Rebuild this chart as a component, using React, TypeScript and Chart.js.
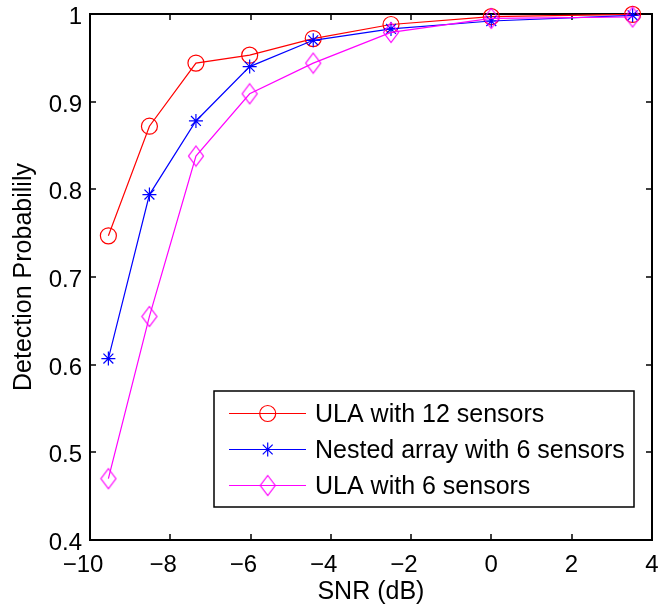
import React, { useEffect, useRef } from 'react';
import { Chart, registerables } from 'chart.js';

Chart.register(...registerables);

// ---- data ----
const snrDb = [-9.542, -8.519, -7.36, -6.021, -4.437, -2.499, 0, 3.522];
const ula12 = [0.747, 0.872, 0.944, 0.953, 0.972, 0.988, 0.997, 0.9995];
const nested6 = [0.607, 0.794, 0.878, 0.94, 0.97, 0.983, 0.992, 0.9985];
const ula6 = [0.47, 0.655, 0.838, 0.909, 0.944, 0.979, 0.995, 0.9966];
const seriesLabels = ['ULA with 12 sensors', 'Nested array with 6 sensors', 'ULA with 6 sensors'];
const xTicks = [-10, -8, -6, -4, -2, 0, 2, 4];
const yTicks = [0.4, 0.5, 0.6, 0.7, 0.8, 0.9, 1];
const xTitle = 'SNR (dB)';
const yTitle = 'Detection Probabilily';

const FONT = '"Liberation Sans", Arial, Helvetica, sans-serif';
const RED = '#ff0000';
const BLUE = '#0000ff';
const MAGENTA = '#ff00ff';

function makeDiamond(color: string): HTMLCanvasElement {
  const c = document.createElement('canvas');
  c.width = 18;
  c.height = 23;
  const g = c.getContext('2d')!;
  g.strokeStyle = color;
  g.lineWidth = 1.2;
  g.beginPath();
  g.moveTo(9, 1.5);
  g.lineTo(16.5, 11.5);
  g.lineTo(9, 21.5);
  g.lineTo(1.5, 11.5);
  g.closePath();
  g.stroke();
  return c;
}

function drawMarker(ctx: CanvasRenderingContext2D, style: any, x: number, y: number, r: number, color: string) {
  ctx.save();
  ctx.strokeStyle = color;
  ctx.lineWidth = 1.2;
  if (style === 'circle') {
    ctx.beginPath();
    ctx.arc(x, y, r, 0, Math.PI * 2);
    ctx.stroke();
  } else if (style === 'star') {
    const d = Math.cos(Math.PI / 4) * r;
    ctx.beginPath();
    ctx.moveTo(x - r, y); ctx.lineTo(x + r, y);
    ctx.moveTo(x, y - r); ctx.lineTo(x, y + r);
    ctx.moveTo(x - d, y - d); ctx.lineTo(x + d, y + d);
    ctx.moveTo(x - d, y + d); ctx.lineTo(x + d, y - d);
    ctx.stroke();
  } else if (style instanceof HTMLCanvasElement) {
    ctx.drawImage(style, x - style.width / 2, y - style.height / 2);
  }
  ctx.restore();
}

const framePlugin = {
  id: 'matlabFrame',
  beforeDatasetsDraw(chart: any) {
    const { ctx, chartArea: a, scales } = chart;
    const xs = scales.x;
    const ys = scales.y;
    ctx.save();
    ctx.strokeStyle = '#000';
    ctx.lineWidth = 2;
    const L = Math.round(a.left), R = Math.round(a.right), T = Math.round(a.top), B = Math.round(a.bottom);
    ctx.strokeRect(L, T, R - L, B - T);
    ctx.beginPath();
    ctx.lineWidth = 1.5;
    const tl = 6;
    xTicks.forEach((v) => {
      const px = Math.round(xs.getPixelForValue(v));
      ctx.moveTo(px, B); ctx.lineTo(px, B - tl);
      ctx.moveTo(px, T); ctx.lineTo(px, T + tl);
    });
    yTicks.forEach((v) => {
      const py = Math.round(ys.getPixelForValue(v));
      ctx.moveTo(L, py); ctx.lineTo(L + tl, py);
      ctx.moveTo(R, py); ctx.lineTo(R - tl, py);
    });
    ctx.stroke();

    // tick labels
    ctx.fillStyle = '#000';
    ctx.font = `24px ${FONT}`;
    ctx.textBaseline = 'alphabetic';
    xTicks.forEach((v) => {
      const px = xs.getPixelForValue(v);
      const digits = String(Math.abs(v));
      const dw = ctx.measureText(digits).width;
      if (v < 0) {
        ctx.textAlign = 'right';
        ctx.fillText('\u2212' + digits, px + dw / 2, a.bottom + 32);
      } else {
        ctx.textAlign = 'center';
        ctx.fillText(digits, px, a.bottom + 32);
      }
    });
    ctx.textAlign = 'right';
    yTicks.forEach((v) => {
      const py = ys.getPixelForValue(v);
      const label = String(Number(v.toFixed(1)));
      ctx.fillText(label, a.left - 8, py + 10);
    });
    ctx.restore();
  },
};

const legendPlugin = {
  id: 'matlabLegend',
  afterDatasetsDraw(chart: any) {
    const { ctx, chartArea: a } = chart;
    const left = Math.round(a.left + 124);
    const right = Math.round(a.right - 18);
    const top = Math.round(a.bottom - 149);
    const bottom = Math.round(a.bottom - 33);
    ctx.save();
    ctx.fillStyle = '#fff';
    ctx.fillRect(left, top, right - left, bottom - top);
    ctx.strokeStyle = '#000';
    ctx.lineWidth = 1.5;
    ctx.strokeRect(left, top, right - left, bottom - top);
    ctx.font = `25px ${FONT}`;
    ctx.textAlign = 'left';
    ctx.textBaseline = 'alphabetic';
    chart.data.datasets.forEach((ds: any, i: number) => {
      const cy = top + 22.3 + i * 35.7;
      ctx.strokeStyle = ds.borderColor;
      ctx.lineWidth = 1.2;
      ctx.beginPath();
      ctx.moveTo(left + 15, Math.round(cy) + 0.5);
      ctx.lineTo(left + 92, Math.round(cy) + 0.5);
      ctx.stroke();
      drawMarker(ctx, ds.pointStyle, left + 53.7, Math.round(cy) + 0.5, ds.pointRadius, ds.borderColor);
      ctx.fillStyle = '#000';
      ctx.fillText(ds.label, left + 101, cy + 9);
    });
    ctx.restore();
  },
};

export default function App() {
  const ref = useRef<HTMLCanvasElement | null>(null);

  useEffect(() => {
    if (!ref.current) return;
    const diamond = makeDiamond(MAGENTA);
    const mk = (ys: number[]) => snrDb.map((x, i) => ({ x, y: ys[i] }));
    const common = {
      borderWidth: 1.2,
      tension: 0,
      pointBorderWidth: 1.2,
      pointBackgroundColor: 'rgba(0,0,0,0)',
      clip: false as any,
      fill: false,
    };
    const chart = new Chart(ref.current, {
      type: 'line',
      data: {
        datasets: [
          { ...common, label: seriesLabels[0], data: mk(ula12), borderColor: RED, pointBorderColor: RED, pointStyle: 'circle', pointRadius: 8, order: 3 },
          { ...common, label: seriesLabels[1], data: mk(nested6), borderColor: BLUE, pointBorderColor: BLUE, pointStyle: 'star', pointRadius: 7, order: 2 },
          { ...common, label: seriesLabels[2], data: mk(ula6), borderColor: MAGENTA, pointBorderColor: MAGENTA, pointStyle: diamond as any, pointRadius: 9, order: 1 },
        ] as any,
      },
      options: {
        responsive: false,
        animation: false,
        devicePixelRatio: 1,
        layout: { padding: { top: 14, right: 9, left: 0, bottom: 0 } },
        plugins: { legend: { display: false }, tooltip: { enabled: false } },
        events: [],
        scales: {
          x: {
            type: 'linear',
            min: -10,
            max: 4,
            grid: { display: false, drawTicks: false },
            border: { display: false },
            ticks: { display: false, stepSize: 2 },
            title: { display: true, text: xTitle, color: '#000', font: { family: FONT, size: 25 }, padding: { top: 0, bottom: -3 } },
            afterFit: (s: any) => { s.height = 64; },
          },
          y: {
            type: 'linear',
            min: 0.4,
            max: 1,
            grid: { display: false, drawTicks: false },
            border: { display: false },
            ticks: { display: false, stepSize: 0.1 },
            title: { display: true, text: yTitle, color: '#000', font: { family: FONT, size: 25 }, padding: { top: 9, bottom: 0 } },
            afterFit: (s: any) => { s.width = 90; },
          },
        },
      } as any,
      plugins: [framePlugin, legendPlugin],
    });
    return () => chart.destroy();
  }, []);

  return (
    <div style={{ position: 'fixed', left: 0, top: 0, width: 662, height: 604, background: '#fff' }}>
      <canvas ref={ref} width={662} height={604} style={{ display: 'block', width: 662, height: 604 }} />
    </div>
  );
}
